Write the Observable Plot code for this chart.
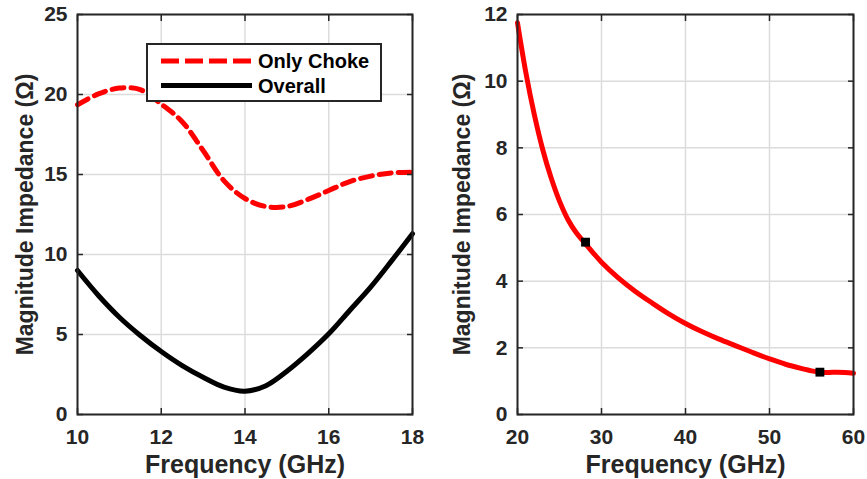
<!DOCTYPE html>
<html>
<head>
<meta charset="utf-8">
<script src="https://cdn.jsdelivr.net/npm/d3@7"></script>
<script src="https://cdn.jsdelivr.net/npm/@observablehq/plot@0.6"></script>
<style>
  html, body { margin: 0; padding: 0; background: #ffffff; }
  #wrap { position: relative; width: 867px; height: 479px; overflow: hidden; font-family: "Liberation Sans", Arial, sans-serif; }
  #left { position: absolute; left: 0; top: 0; }
  #right { position: absolute; left: 430px; top: 0; }
  #legend { position: absolute; left: 146px; top: 43px; width: 236px; height: 59px; box-sizing: border-box; border: 2px solid #262626; background: #ffffff; }
  #legend svg { position: absolute; left: 0; top: 0; }
</style>
</head>
<body>
<div id="wrap">
  <div id="left"></div>
  <div id="right"></div>
  <div id="legend"></div>
</div>
<script>
// ---- Left panel data (10–18 GHz) ----
const leftFreq = [10, 10.5, 11, 11.5, 12, 12.5, 13, 13.5, 14, 14.5, 15, 15.5, 16, 16.5, 17, 17.5, 18];
const onlyChoke = [19.36, 20.04, 20.4, 20.3, 19.4, 18.3, 16.5, 14.6, 13.5, 13.0, 13.0, 13.44, 14.0, 14.56, 14.9, 15.1, 15.15];
const overall = [9.0, 7.44, 6.08, 4.94, 3.94, 3.06, 2.33, 1.71, 1.46, 1.8, 2.7, 3.8, 5.04, 6.5, 7.96, 9.6, 11.3];
const leftXTicks = [10, 12, 14, 16, 18];
const leftYTicks = [0, 5, 10, 15, 20, 25];
const seriesNames = ["Only Choke", "Overall"];

// ---- Right panel data (20–60 GHz) ----
const rightFreq = [20, 21, 22, 23, 24, 25, 26, 27, 28, 29, 30, 32, 34, 36, 38, 40, 42, 44, 46, 48, 50, 52, 54, 55, 56, 57, 58, 59, 60];
const rightZ = [11.75, 10.25, 9.0, 7.95, 7.1, 6.4, 5.85, 5.45, 5.15, 4.85, 4.57, 4.1, 3.7, 3.35, 3.02, 2.73, 2.48, 2.26, 2.06, 1.86, 1.67, 1.5, 1.37, 1.31, 1.27, 1.26, 1.27, 1.26, 1.24];
const markerFreq = [28.1, 56.0];
const markerZ = [5.17, 1.27];
const rightXTicks = [20, 30, 40, 50, 60];
const rightYTicks = [0, 2, 4, 6, 8, 10, 12];

const xLabel = "Frequency (GHz)";
const yLabel = "Magnitude Impedance (Ω)";

const FONT = '"Liberation Sans", Arial, sans-serif';
const TXT = "#262626";
const GRID = "#dcdcdc";
const gridOpts = {stroke: GRID, strokeOpacity: 1, strokeWidth: 1.5};

function panel({width, marginLeft, marginRight, xDomain, yDomain, xTicks, yTicks, lines, extra, yLabelDx}) {
  return Plot.plot({
    width, height: 479,
    marginLeft, marginRight, marginTop: 14, marginBottom: 65,
    style: {fontFamily: FONT, fontWeight: "bold", color: TXT, background: "transparent", overflow: "visible"},
    x: {domain: xDomain},
    y: {domain: yDomain},
    marks: [
      Plot.gridX(xTicks, gridOpts),
      Plot.gridY(yTicks, gridOpts),
      ...lines,
      ...(extra || []),
      Plot.frame({stroke: TXT, strokeWidth: 2}),
      // inward ticks on all four sides
      Plot.axisX(xTicks, {anchor: "bottom", tickSize: -6, tickFormat: () => "", label: null, stroke: TXT, strokeWidth: 1.5}),
      Plot.axisX(xTicks, {anchor: "top", tickSize: -6, tickFormat: () => "", label: null, stroke: TXT, strokeWidth: 1.5}),
      Plot.axisY(yTicks, {anchor: "left", tickSize: -6, tickFormat: () => "", label: null, stroke: TXT, strokeWidth: 1.5}),
      Plot.axisY(yTicks, {anchor: "right", tickSize: -6, tickFormat: () => "", label: null, stroke: TXT, strokeWidth: 1.5}),
      // tick labels
      Plot.axisX(xTicks, {anchor: "bottom", tickSize: 0, tickPadding: 15, fontSize: 21, label: null, fill: TXT}),
      Plot.axisY(yTicks, {anchor: "left", tickSize: 0, tickPadding: 10, fontSize: 21, label: null, fill: TXT}),
      // axis titles
      Plot.text([xLabel], {text: d => d, frameAnchor: "bottom", textAnchor: "middle", dy: 58, lineAnchor: "bottom", fontSize: 25, fill: TXT}),
      Plot.text([yLabel], {text: d => d, frameAnchor: "left", textAnchor: "middle", rotate: -90, dx: yLabelDx, lineAnchor: "bottom", fontSize: 23, fill: TXT})
    ]
  });
}

const leftRows = leftFreq.map((f, i) => ({f, choke: onlyChoke[i], overall: overall[i]}));

const leftPlot = panel({
  width: 430, marginLeft: 77, marginRight: 18,
  xDomain: [10, 18], yDomain: [0, 25],
  xTicks: leftXTicks, yTicks: leftYTicks, yLabelDx: -45,
  lines: [
    Plot.line(leftRows, {x: "f", y: "choke", stroke: "#ff0000", strokeWidth: 5, strokeDasharray: "12,7", curve: "catmull-rom"}),
    Plot.line(leftRows, {x: "f", y: "overall", stroke: "#000000", strokeWidth: 5, curve: "catmull-rom"})
  ]
});
document.getElementById("left").appendChild(leftPlot);

const rightRows = rightFreq.map((f, i) => ({f, z: rightZ[i]}));
const markerRows = markerFreq.map((f, i) => ({f, z: markerZ[i]}));

const rightPlot = panel({
  width: 437, marginLeft: 87, marginRight: 14,
  xDomain: [20, 60], yDomain: [0, 12],
  xTicks: rightXTicks, yTicks: rightYTicks, yLabelDx: -48,
  lines: [
    Plot.line(rightRows, {x: "f", y: "z", stroke: "#ff0000", strokeWidth: 5, curve: "catmull-rom"})
  ],
  extra: [
    Plot.dot(markerRows, {x: "f", y: "z", symbol: "square", r: 5, fill: "#000000", stroke: null})
  ]
});
document.getElementById("right").appendChild(rightPlot);

// ---- Legend (inside the left axes) ----
const legend = d3.select("#legend").append("svg").attr("width", 232).attr("height", 55);
const legendStyles = [
  {stroke: "#ff0000", dash: "18,6"},
  {stroke: "#000000", dash: null}
];
seriesNames.forEach((name, i) => {
  const cy = 16 + i * 24.5;
  legend.append("line")
    .attr("x1", 13).attr("x2", 104).attr("y1", cy).attr("y2", cy)
    .attr("stroke", legendStyles[i].stroke).attr("stroke-width", 5)
    .attr("stroke-dasharray", legendStyles[i].dash);
  legend.append("text")
    .attr("x", 110).attr("y", cy + 7.2)
    .attr("font-family", FONT).attr("font-weight", "bold").attr("font-size", 20)
    .attr("fill", "#000000")
    .text(name);
});
</script>
</body>
</html>
